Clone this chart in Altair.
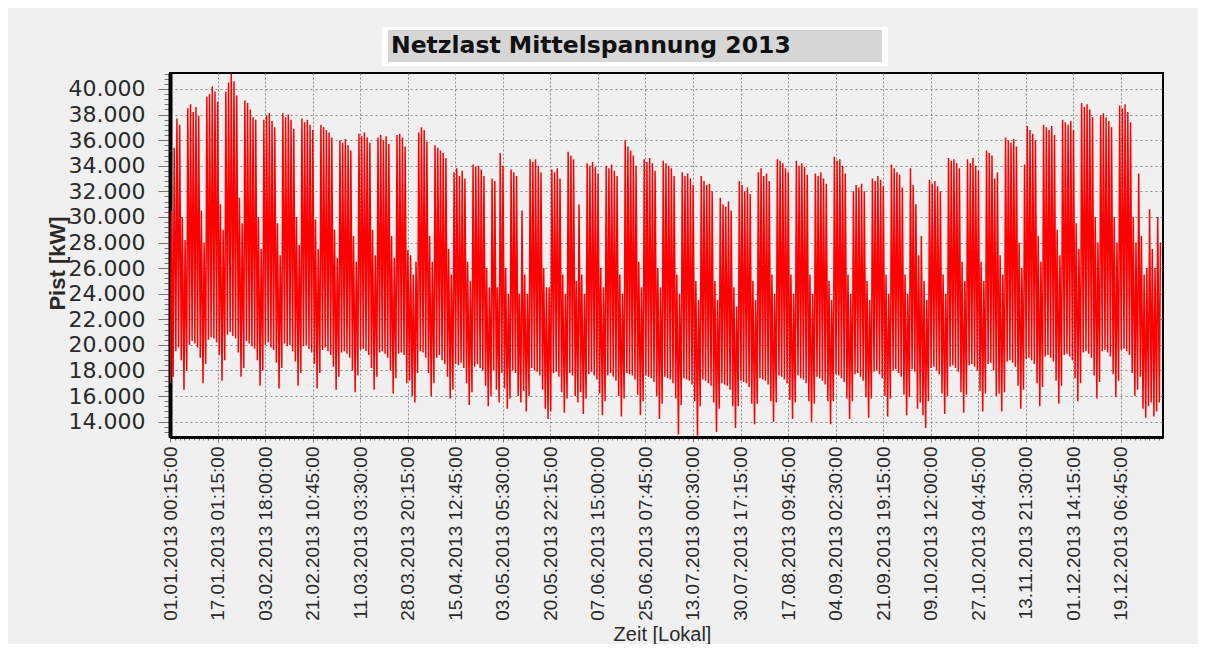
import json
import altair as alt
import pandas as pd

TITLE = "Netzlast Mittelspannung 2013"
Y_TITLE = "Pist [kW]"
X_TITLE = "Zeit [Lokal]"

# daily peak load (thousand kW), one row per week (Mon..Sun); first row starts Tue 01.01.
peaks_weeks = [
    [30.5, 35.4, 37.7, 37.2, 30.0, 28.2],
    [38.5, 38.8, 38.2, 38.6, 37.9, 30.5, 28.0],
    [39.4, 39.6, 40.2, 39.8, 39.0, 31.0, 29.0],
    [39.8, 40.5, 41.2, 40.6, 39.5, 31.5, 29.5],
    [39.1, 38.9, 38.4, 37.8, 37.6, 30.0, 27.5],
    [37.6, 37.9, 38.1, 37.5, 37.0, 29.5, 27.0],
    [38.1, 37.8, 38.0, 37.6, 36.9, 30.0, 27.8],
    [37.7, 37.4, 37.6, 37.2, 36.8, 29.8, 27.5],
    [37.2, 37.0, 36.8, 36.6, 36.2, 29.0, 26.8],
    [36.0, 35.8, 36.1, 35.6, 35.2, 28.5, 26.5],
    [36.5, 36.3, 36.6, 36.2, 35.8, 29.0, 27.0],
    [36.2, 36.4, 36.0, 36.3, 35.7, 28.5, 26.8],
    [36.4, 36.5, 36.2, 35.5, 27.4, 27.0, 25.5],
    [26.5, 36.6, 37.0, 36.8, 35.9, 28.5, 26.5],
    [35.6, 35.4, 35.2, 35.0, 34.6, 27.5, 25.5],
    [33.5, 33.8, 33.2, 33.6, 33.0, 26.5, 25.0],
    [34.1, 33.9, 34.0, 33.7, 33.2, 26.0, 24.5],
    [33.0, 32.8, 24.5, 35.0, 34.0, 26.0, 24.0],
    [33.7, 33.5, 33.2, 24.0, 30.5, 25.5, 24.0],
    [34.5, 34.3, 34.5, 34.0, 33.5, 26.0, 24.5],
    [24.5, 33.7, 33.5, 33.8, 33.0, 25.5, 24.0],
    [35.1, 34.8, 34.5, 25.0, 31.0, 25.5, 24.0],
    [34.2, 34.0, 34.3, 33.9, 33.4, 26.0, 24.5],
    [34.0, 33.8, 34.1, 33.6, 33.2, 25.5, 24.0],
    [36.0, 35.5, 35.2, 34.8, 34.0, 26.5, 24.5],
    [34.5, 34.3, 34.6, 34.2, 33.6, 26.0, 24.5],
    [34.4, 34.2, 34.0, 33.8, 33.2, 25.5, 24.0],
    [33.5, 33.2, 33.4, 33.0, 32.5, 25.0, 23.5],
    [33.2, 32.8, 32.5, 32.6, 32.0, 25.0, 23.5],
    [31.5, 31.0, 30.8, 31.2, 30.5, 24.5, 23.0],
    [32.8, 32.5, 32.0, 32.3, 31.8, 25.0, 23.5],
    [33.5, 33.8, 33.2, 33.4, 32.8, 25.5, 24.0],
    [34.5, 34.4, 34.2, 33.8, 33.5, 25.5, 24.0],
    [34.4, 34.0, 34.2, 33.9, 33.3, 25.5, 24.0],
    [33.4, 33.2, 33.5, 33.0, 32.6, 25.0, 23.5],
    [34.7, 34.4, 34.5, 34.0, 33.4, 25.5, 24.0],
    [32.0, 32.5, 32.3, 32.6, 32.0, 25.0, 23.5],
    [33.0, 32.8, 33.2, 32.9, 32.4, 25.5, 24.0],
    [34.1, 33.8, 33.5, 33.3, 32.3, 25.5, 24.0],
    [33.8, 32.5, 31.0, 27.0, 28.5, 25.0, 23.5],
    [32.9, 32.6, 32.8, 32.4, 32.0, 25.5, 24.0],
    [34.6, 34.4, 34.5, 34.2, 33.8, 26.5, 25.0],
    [34.5, 34.2, 34.6, 34.0, 33.6, 26.5, 25.0],
    [35.2, 35.0, 34.8, 33.0, 33.5, 27.0, 25.5],
    [36.2, 36.0, 35.8, 36.1, 35.5, 28.0, 26.0],
    [34.1, 37.1, 36.8, 36.5, 36.0, 28.5, 26.5],
    [37.2, 37.0, 36.8, 37.1, 36.4, 29.0, 27.0],
    [37.6, 37.4, 37.2, 37.5, 36.8, 29.5, 27.5],
    [38.9, 38.6, 38.8, 38.4, 37.8, 30.0, 28.0],
    [37.9, 38.1, 37.8, 37.5, 37.0, 30.0, 28.0],
    [38.7, 38.5, 38.8, 38.2, 37.4, 30.0, 28.0],
    [33.4, 28.5, 25.5, 26.0, 30.6, 27.5, 26.0],
    [30.0, 28.0],
]

# daily night minimum (thousand kW), same layout
lows_weeks = [
    [17.0, 17.5, 19.5, 19.8, 18.8, 16.5],
    [18.0, 20.0, 20.3, 20.1, 19.8, 19.0, 17.0],
    [18.5, 20.4, 20.6, 20.5, 20.2, 19.2, 17.2],
    [18.8, 20.8, 21.0, 20.7, 20.5, 19.4, 17.5],
    [18.2, 20.3, 20.1, 19.9, 19.7, 18.8, 16.8],
    [18.0, 20.0, 20.2, 19.8, 19.6, 18.6, 16.6],
    [18.2, 20.1, 19.9, 20.0, 19.5, 18.7, 16.8],
    [17.8, 19.9, 20.0, 19.7, 19.4, 18.5, 16.6],
    [17.8, 19.6, 19.8, 19.5, 19.2, 18.3, 16.5],
    [17.5, 19.4, 19.5, 19.3, 19.0, 18.0, 16.3],
    [17.6, 19.6, 19.7, 19.5, 19.2, 18.2, 16.5],
    [17.5, 19.4, 19.5, 19.3, 19.0, 18.0, 16.2],
    [17.4, 19.3, 19.4, 19.2, 17.0, 17.2, 16.0],
    [15.5, 17.8, 19.5, 19.4, 19.0, 17.8, 16.0],
    [17.0, 19.0, 19.2, 18.8, 18.5, 17.5, 15.8],
    [16.5, 18.5, 18.4, 18.6, 18.2, 17.0, 15.3],
    [16.3, 18.3, 18.5, 18.2, 18.0, 16.8, 15.2],
    [16.0, 18.0, 16.5, 15.5, 17.8, 16.6, 15.0],
    [15.8, 18.0, 17.8, 16.0, 15.5, 16.4, 14.8],
    [16.0, 18.2, 18.0, 17.9, 17.6, 16.5, 15.0],
    [14.2, 14.8, 17.8, 17.9, 17.5, 16.3, 14.7],
    [15.8, 17.8, 17.6, 16.0, 15.5, 16.3, 14.6],
    [15.8, 17.7, 17.9, 17.6, 17.3, 16.2, 14.5],
    [15.6, 17.6, 17.8, 17.5, 17.2, 16.0, 14.4],
    [15.8, 17.8, 17.7, 17.6, 17.3, 16.1, 14.5],
    [15.6, 17.6, 17.5, 17.4, 17.1, 16.0, 14.2],
    [15.4, 17.5, 17.4, 17.3, 17.0, 15.8, 13.0],
    [15.3, 17.4, 17.3, 17.2, 16.9, 15.6, 12.9],
    [15.2, 17.3, 17.2, 17.0, 16.8, 15.5, 13.2],
    [15.0, 17.0, 16.9, 16.8, 16.5, 15.2, 13.5],
    [15.2, 17.2, 17.1, 17.0, 16.7, 15.4, 13.8],
    [15.4, 17.4, 17.3, 17.2, 16.9, 15.6, 14.0],
    [15.5, 17.6, 17.5, 17.3, 17.0, 15.7, 14.2],
    [15.5, 17.6, 17.4, 17.3, 17.0, 15.6, 14.0],
    [15.4, 17.5, 17.4, 17.2, 16.9, 15.6, 13.8],
    [15.6, 17.7, 17.6, 17.4, 17.1, 15.8, 14.2],
    [15.6, 17.7, 17.8, 17.5, 17.2, 15.9, 14.3],
    [15.8, 17.9, 18.0, 17.7, 17.4, 16.0, 14.4],
    [15.8, 18.0, 18.1, 17.8, 17.5, 16.1, 14.5],
    [15.9, 18.1, 17.9, 15.0, 15.5, 14.5, 13.5],
    [15.6, 18.2, 18.3, 18.0, 17.7, 16.2, 14.6],
    [16.0, 18.3, 18.4, 18.2, 17.9, 16.3, 14.7],
    [16.1, 18.4, 18.5, 18.3, 18.0, 16.4, 14.8],
    [16.2, 18.5, 18.6, 18.0, 16.0, 16.2, 14.8],
    [16.3, 18.7, 18.8, 18.6, 18.3, 16.8, 15.0],
    [16.5, 18.9, 19.0, 18.8, 18.5, 17.0, 15.2],
    [16.7, 19.1, 19.2, 19.0, 18.7, 17.2, 15.4],
    [16.8, 19.2, 19.3, 19.1, 18.8, 17.4, 15.6],
    [17.0, 19.4, 19.5, 19.3, 19.0, 17.6, 15.8],
    [17.1, 19.5, 19.6, 19.4, 19.1, 17.7, 15.9],
    [17.2, 19.6, 19.7, 19.5, 19.2, 17.8, 16.0],
    [16.5, 17.5, 15.0, 14.3, 15.2, 15.5, 14.4],
    [14.8, 15.5],
]

x_labels = [
    "01.01.2013 00:15:00", "17.01.2013 01:15:00", "03.02.2013 18:00:00",
    "21.02.2013 10:45:00", "11.03.2013 03:30:00", "28.03.2013 20:15:00",
    "15.04.2013 12:45:00", "03.05.2013 05:30:00", "20.05.2013 22:15:00",
    "07.06.2013 15:00:00", "25.06.2013 07:45:00", "13.07.2013 00:30:00",
    "30.07.2013 17:15:00", "17.08.2013 09:45:00", "04.09.2013 02:30:00",
    "21.09.2013 19:15:00", "09.10.2013 12:00:00", "27.10.2013 04:45:00",
    "13.11.2013 21:30:00", "01.12.2013 14:15:00", "19.12.2013 06:45:00",
]

peaks = [v for w in peaks_weeks for v in w]
lows = [v for w in lows_weeks for v in w]

rows = []
for d, (lo, hi) in enumerate(zip(lows, peaks)):
    rows.append({"t": d + 0.15, "p": lo * 1000})
    rows.append({"t": d + 0.55, "p": hi * 1000})
df = pd.DataFrame(rows)

# axis tick layout (major every label step, minor in between)
x_tick_vals = [k * 1.75 for k in range(0, 209)]
y_tick_vals = list(range(13200, 41201, 400))

x_label_expr = ("datum.value % 17.5 == 0 ? " + json.dumps(x_labels)
                + "[round(datum.value / 17.5)] : ''")
y_label_expr = "datum.value % 2000 == 0 ? replace(format(datum.value, ',d'), ',', '.') : ''"

x_axis = alt.Axis(
    values=x_tick_vals,
    labelExpr=x_label_expr,
    labelAngle=270,
    labelAlign="right",
    labelBaseline="middle",
    labelFont="Liberation Sans",
    labelFontSize=19,
    labelColor="#2a2a2a",
    labelPadding=4,
    labelOverlap=False,
    labelBound=False,
    labelFlush=False,
    tickSize={"condition": {"test": "datum.value % 17.5 == 0", "value": 5}, "value": 3},
    tickColor="#777777",
    grid=True,
    gridColor="#8a8a8a",
    gridDash=[2, 2],
    gridWidth=1,
    gridOpacity={"condition": {"test": "datum.value % 17.5 == 0", "value": 1}, "value": 0},
    domainColor="#000000",
    domainWidth=3,
    title=X_TITLE,
    titleFont="Liberation Sans",
    titleFontSize=20,
    titleFontWeight="normal",
    titleColor="#2a2a2a",
    titleX=492,
    titleY=197,
    titleBaseline="middle",
    titleAlign="center",
)

y_axis = alt.Axis(
    values=y_tick_vals,
    labelExpr=y_label_expr,
    labelFont="DejaVu Sans",
    labelFontSize=22,
    labelColor="#2a2a2a",
    labelPadding=13,
    labelOverlap=False,
    labelBound=False,
    labelFlush=False,
    tickSize={"condition": {"test": "datum.value % 2000 == 0", "value": 12}, "value": 6},
    tickColor="#777777",
    grid=True,
    gridColor="#8a8a8a",
    gridDash=[2, 3],
    gridWidth=1,
    gridOpacity={"condition": {"test": "datum.value % 2000 == 0", "value": 1}, "value": 0},
    domainColor="#000000",
    domainWidth=4,
    title=Y_TITLE,
    titleFont="Liberation Sans",
    titleFontSize=22,
    titleFontWeight="bold",
    titleColor="#2a2a2a",
    titleAngle=270,
    titleX=-113,
    titleY=190,
    titleBaseline="middle",
    titleAlign="center",
)

line = alt.Chart(df).mark_line(color="#ff0000", strokeWidth=1.5, clip=True).encode(
    x=alt.X("t:Q", scale=alt.Scale(domain=[0, 365.5], nice=False, zero=False), axis=x_axis),
    y=alt.Y("p:Q", scale=alt.Scale(domain=[12800, 41250], nice=False, zero=False), axis=y_axis),
)

one = alt.Data(values=[{"k": 0}])
title_frame = alt.Chart(one).mark_rect(color="#ffffff").encode(
    x=alt.value(212), x2=alt.value(718), y=alt.value(-46), y2=alt.value(-7)
)
title_box = alt.Chart(one).mark_rect(color="#d6d6d6").encode(
    x=alt.value(218), x2=alt.value(712), y=alt.value(-43), y2=alt.value(-11)
)
title_text = alt.Chart(one).mark_text(
    align="left", baseline="middle", font="DejaVu Sans", fontSize=23.5,
    fontWeight="bold", color="#111111"
).encode(x=alt.value(221), y=alt.value(-27), text=alt.value(TITLE))

chart = alt.layer(line, title_frame, title_box, title_text).properties(
    width=993,
    height=364,
    autosize=alt.AutoSizeParams(type="none"),
    padding={"left": 162, "top": 65, "right": 35, "bottom": 207},
).configure(
    background="#f0f0f0",
).configure_view(
    stroke="#000000",
    strokeWidth=2,
    fill="#f0f0f0",
)

chart.save("out.html", embed_options={"renderer": "svg", "actions": False})
